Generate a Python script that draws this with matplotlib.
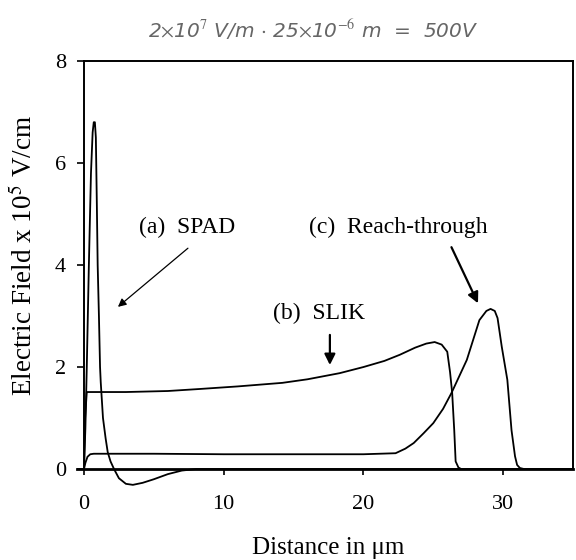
import matplotlib
matplotlib.use("Agg")
import matplotlib.pyplot as plt

# Distance (um) and electric field (x 1e5 V/cm) for the three device structures
spad_x = [0, 0.1, 0.2, 0.35, 0.5, 0.62, 0.7, 0.78, 0.85, 0.92, 0.98, 1.07, 1.15, 1.2,
          1.36, 1.55, 1.7, 1.9, 2.15, 2.5, 3.0, 3.5, 4.2, 5.0, 6.0, 7.0, 8.0, 35]
spad_y = [0, 0.8, 2.0, 4.0, 5.8, 6.6, 6.8, 6.8, 6.5, 5.2, 4.0, 3.0, 2.0, 1.7,
          1.0, 0.6, 0.33, 0.15, 0, -0.18, -0.29, -0.31, -0.27, -0.2, -0.1, -0.03, 0, 0]

slik_x = [0, 0.08, 0.2, 3, 6, 8.3, 11, 14.2, 16, 18.3, 20, 21.5, 22.6, 23.7,
          24.5, 25.1, 25.6, 26.0, 26.2, 26.35, 26.5, 26.6, 26.8, 27.0, 35]
slik_y = [0, 1.0, 1.51, 1.51, 1.53, 1.57, 1.62, 1.69, 1.76, 1.88, 2.0, 2.12, 2.24, 2.38,
          2.46, 2.49, 2.44, 2.3, 1.9, 1.5, 0.76, 0.15, 0.03, 0, 0]

rt_x = [0, 0.1, 0.25, 0.45, 0.7, 5, 10, 15, 20, 22.3, 23.0, 23.6, 24.3, 25.0,
        25.7, 26.3, 27.4, 28.3, 28.8, 29.1, 29.4, 29.6, 29.9, 30.3, 30.6, 30.85,
        31.0, 31.2, 31.5, 35]
rt_y = [0, 0.12, 0.24, 0.29, 0.3, 0.3, 0.29, 0.29, 0.29, 0.31, 0.4, 0.51, 0.7, 0.9,
        1.18, 1.49, 2.14, 2.92, 3.1, 3.14, 3.1, 2.96, 2.4, 1.75, 0.76, 0.25,
        0.08, 0.02, 0, 0]

x_ticks = [0, 10, 20, 30]
y_ticks = [0, 2, 4, 6, 8]

plt.rcParams["font.family"] = ["Liberation Serif", "DejaVu Serif"]
plt.rcParams["mathtext.fontset"] = "stix"

fig = plt.figure(figsize=(5.76, 5.60), dpi=100)
ax = fig.add_axes([0.1458, 0.126, 0.849, 0.765])

for xs, ys in [(spad_x, spad_y), (slik_x, slik_y), (rt_x, rt_y)]:
    ax.plot(xs, ys, color="black", lw=1.3, solid_joinstyle="round")

ax.set_xlim(0, 35)
ax.set_ylim(-0.4, 8)

ax.spines["bottom"].set_position(("data", 0))
ax.spines["bottom"].set_linewidth(2.0)
ax.spines["bottom"].set_bounds(-0.5, 35)
for side in ["left", "right", "top"]:
    ax.spines[side].set_linewidth(1.4)
ax.spines["left"].set_bounds(0, 8)
ax.spines["right"].set_bounds(0, 8)

ax.set_xticks(x_ticks)
ax.set_yticks(y_ticks)
ax.tick_params(axis="x", direction="out", length=4, width=1.2, pad=15, labelsize=16)
ax.tick_params(axis="y", direction="out", length=5, width=1.2, pad=8, labelsize=16)

ax.set_ylabel(r"Electric Field x 10$^5$ V/cm", fontsize=19.5)
ax.yaxis.set_label_coords(-0.094, 0.545)
fig.text(0.569, 0.021, "Distance in \u03bcm", ha="center", va="center", fontsize=18)

# Curve annotations
ax.text(7.37, 4.73, "(a)  SPAD", ha="center", va="center", fontsize=17)
ax.annotate("", xy=(2.43, 3.18), xytext=(7.44, 4.33),
            arrowprops=dict(arrowstyle="-|>", color="black", lw=0.9,
                            mutation_scale=12, shrinkA=0, shrinkB=0))

ax.text(22.5, 4.73, "(c)  Reach-through", ha="center", va="center", fontsize=17)
ax.annotate("", xy=(28.2, 3.25), xytext=(26.3, 4.35),
            arrowprops=dict(arrowstyle="-|>", color="black", lw=1.6,
                            mutation_scale=16, shrinkA=0, shrinkB=0))

ax.text(16.8, 3.06, "(b)  SLIK", ha="center", va="center", fontsize=17)
ax.annotate("", xy=(17.6, 2.04), xytext=(17.6, 2.63),
            arrowprops=dict(arrowstyle="-|>", color="black", lw=1.6,
                            mutation_scale=16, shrinkA=0, shrinkB=0))

# Handwritten estimate above the plot
fig.text(0.543, 0.945, r"2$\times$10$^7$ V/m $\cdot$ 25$\times$10$^{-6}$ m  =  500V",
         ha="center", va="center", fontsize=14.5, style="italic", color="#666666",
         family=["DejaVu Sans"])

fig.savefig("out.png", dpi=100)
